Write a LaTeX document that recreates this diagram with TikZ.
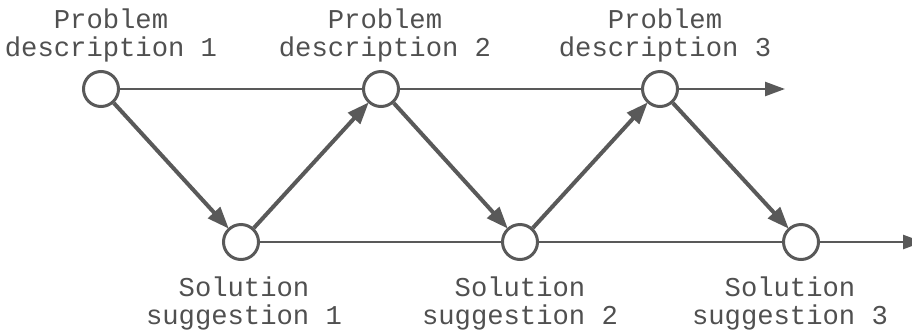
\documentclass[tikz,border=0pt]{standalone}
\usepackage{fontspec}
\setmonofont{Liberation Mono}
\usetikzlibrary{arrows.meta}
\definecolor{ink}{HTML}{595959}
\tikzset{
  state/.style={circle, draw=ink, line width=3pt, fill=white, minimum size=35pt, inner sep=0pt},
  lbl/.style={align=center, inner sep=0pt, text=ink!90!black, font=\ttfamily\fontsize{27.2}{28}\selectfont},
  flow/.style={draw=ink, line width=2.5pt, -{Triangle[length=20pt,width=14pt]}},
  plain/.style={draw=ink, line width=2.5pt},
  diag/.style={draw=ink, line width=4pt, -{Triangle[length=22pt,width=16pt]}, shorten >=-1pt}
}
\begin{document}
\begin{tikzpicture}[x=1pt,y=-1pt]
\useasboundingbox (0,0) rectangle (912,333);
\node[state] (p1) at (101,89) {};
\node[state] (p2) at (381,89) {};
\node[state] (p3) at (660,89) {};
\node[state] (s1) at (241,242) {};
\node[state] (s2) at (520,242) {};
\node[state] (s3) at (801,242) {};
\coordinate (pe) at (785,89);
\coordinate (se) at (923,242);
\draw[plain] (p1) -- (p2);
\draw[plain] (p2) -- (p3);
\draw[flow] (p3) -- (pe);
\draw[plain] (s1) -- (s2);
\draw[plain] (s2) -- (s3);
\draw[flow] (s3) -- (se);
\draw[diag] (p1) -- (s1);
\draw[diag] (s1) -- (p2);
\draw[diag] (p2) -- (s2);
\draw[diag] (s2) -- (p3);
\draw[diag] (p3) -- (s3);
\node[lbl] (l1) at (111,35) {Problem\\description 1};
\node[lbl] (l2) at (385,35) {Problem\\description 2};
\node[lbl] (l3) at (665,35) {Problem\\description 3};
\node[lbl] (m1) at (244,303) {Solution\\suggestion 1};
\node[lbl] (m2) at (520,303) {Solution\\suggestion 2};
\node[lbl] (m3) at (790,303) {Solution\\suggestion 3};
\end{tikzpicture}
\end{document}
